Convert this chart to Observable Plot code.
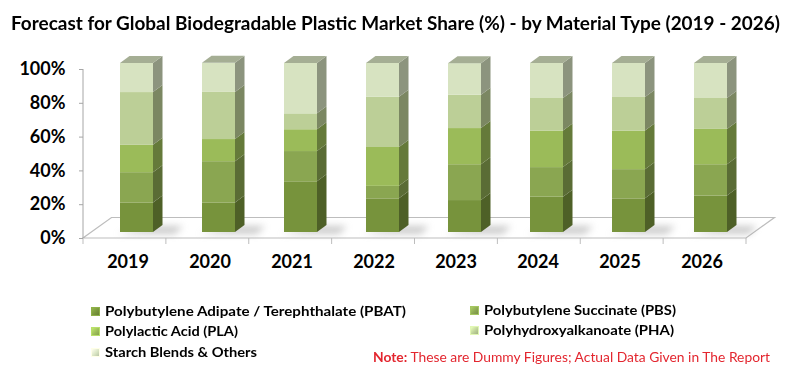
<!DOCTYPE html>
<html><head><meta charset="utf-8">
<script src="https://cdn.jsdelivr.net/npm/d3@7"></script>
<script src="https://cdn.jsdelivr.net/npm/@observablehq/plot@0.6"></script>
<style>
body{margin:0;background:#fff;}
#wrap{position:relative;width:795px;height:378px;overflow:hidden;font-family:Lato,"Open Sans",sans-serif;color:#000;}
#wrap svg{position:absolute;left:0;top:0;}
.title{position:absolute;left:11px;top:13px;font-weight:bold;font-size:18px;line-height:20px;white-space:nowrap;transform-origin:0 50%;}
.leg{position:absolute;height:20px;line-height:20px;font-weight:bold;font-size:14px;white-space:nowrap;display:flex;align-items:center;}
.leg .sw{width:7px;height:7px;margin-right:5px;flex:none;}
.leg .tx{display:inline-block;transform-origin:0 50%;}
.note{position:absolute;left:373px;top:347px;height:20px;line-height:20px;font-size:14px;color:#e3262f;white-space:nowrap;transform-origin:0 50%;}
</style></head>
<body>
<div id="wrap"></div>
<script>
const years = ["2019","2020","2021","2022","2023","2024","2025","2026"];
const types = ["Polybutylene Adipate / Terephthalate (PBAT)","Polybutylene Succinate (PBS)","Polylactic Acid (PLA)","Polyhydroxyalkanoate (PHA)","Starch Blends & Others"];
const pbat   = [17.5, 17.5, 30.0, 19.9, 18.9, 20.9, 19.9, 21.6];
const pbs    = [17.9, 24.4, 17.9,  7.4, 21.2, 17.5, 17.3, 18.5];
const pla    = [16.2, 13.1, 12.9, 23.0, 21.4, 21.6, 22.8, 20.9];
const pha    = [31.2, 27.9,  9.4, 29.8, 19.7, 19.3, 19.9, 18.3];
const starch = [17.2, 17.2, 29.8, 19.9, 18.7, 20.7, 20.1, 20.7];
const colors = ["#77933c","#8aa651","#9bbb59","#bccf97","#d7e3c1"];
const yTicks = [0,20,40,60,80,100];
const titleText = "Forecast for Global Biodegradable Plastic Market Share (%) - by Material Type  (2019 - 2026)";

const series = [pbat, pbs, pla, pha, starch];
const rows = types.flatMap((t,i)=>years.map((y,j)=>({year:y,type:t,value:series[i][j]})));

const W = 795, H = 378, ML = 83, MR = 49, MT = 69, MB = 140;
const DX = 9, DY = -6;       // bar offset (3D depth)
const SX = 9.5, SY = 7;      // bar side depth
const FX = 28.5, FY = 20.5;  // floor depth

const chart = Plot.plot({
  width: W, height: H,
  marginLeft: ML, marginRight: MR, marginTop: MT, marginBottom: MB,
  style: {fontFamily: "Lato, 'Open Sans', sans-serif", fontSize: "18px", fontWeight: "bold", color: "#000", background: "transparent"},
  x: {domain: years, paddingInner: 0.6, paddingOuter: 0.3, label: null},
  y: {domain: [0,100], label: null},
  color: {domain: types, range: colors},
  marks: [
    Plot.axisY({ticks: yTicks, tickFormat: d => d + "%", tickSize: 4, tickPadding: 14, stroke: "#a6a6a6", label: null}),
    Plot.axisX({tickSize: 0, tickPadding: 17, label: null}),
    Plot.barY(rows, {x: "year", y: "value", fill: "type", dx: DX, dy: DY})
  ]
});
const wrap = document.getElementById("wrap");
wrap.appendChild(chart);

// 3D decoration derived from rendered geometry
const svg = d3.select(chart);
const ns = "http://www.w3.org/2000/svg";
const y0 = H - MB, xr = W - MR;
const floor = svg.insert("g", ":first-child");
const defs = svg.insert("defs", ":first-child");
defs.append("filter").attr("id","blur").attr("x","-50%").attr("y","-100%").attr("width","200%").attr("height","300%")
  .append("feGaussianBlur").attr("stdDeviation", 3.5);
floor.append("polygon")
  .attr("points", `${ML},${y0} ${xr},${y0} ${xr+FX},${y0-FY} ${ML+FX},${y0-FY}`)
  .attr("fill", "#fff").attr("stroke", "#bdbdbd").attr("stroke-width", 1.2);
floor.append("line").attr("x1", ML).attr("x2", ML).attr("y1", MT).attr("y2", y0)
  .attr("stroke", "#a6a6a6").attr("stroke-width", 1);
const step = (xr - ML) / years.length;
for (let i = 0; i <= years.length; i++) {
  floor.append("line").attr("x1", ML + i*step).attr("x2", ML + i*step).attr("y1", y0).attr("y2", y0 + 6)
    .attr("stroke", "#bdbdbd").attr("stroke-width", 1);
}
const barG = svg.selectAll("rect").filter(function(){ return this.getAttribute("fill") && this.getAttribute("fill") !== "none"; });
const groups = new Map();
barG.each(function(){
  const r = this;
  const x = +r.getAttribute("x"), y = +r.getAttribute("y"), w = +r.getAttribute("width"), h = +r.getAttribute("height");
  const fill = r.getAttribute("fill");
  const p = r.parentNode;
  const side = document.createElementNS(ns, "polygon");
  side.setAttribute("points", `${x+w},${y} ${x+w+SX},${y-SY} ${x+w+SX},${y+h-SY} ${x+w},${y+h}`);
  side.setAttribute("fill", d3.color(fill).darker(1.2).formatHex());
  p.appendChild(side);
  const key = Math.round(x);
  const g = groups.get(key) || {x, w, top: Infinity, bottom: -Infinity, topFill: null, parent: p};
  if (y < g.top) { g.top = y; g.topFill = fill; }
  if (y + h > g.bottom) g.bottom = y + h;
  groups.set(key, g);
});
for (const g of groups.values()) {
  const top = document.createElementNS(ns, "polygon");
  top.setAttribute("points", `${g.x},${g.top} ${g.x+SX},${g.top-SY} ${g.x+g.w+SX},${g.top-SY} ${g.x+g.w},${g.top}`);
  top.setAttribute("fill", d3.color(g.topFill).darker(0.75).formatHex());
  g.parent.appendChild(top);
  const sh = document.createElementNS(ns, "polygon");
  const b = g.bottom;
  sh.setAttribute("points", `${g.x-3},${b+2} ${g.x+g.w+22},${b+2} ${g.x+g.w+30},${b-6} ${g.x+g.w},${b-6}`);
  sh.setAttribute("fill", "#a0a0a0");
  sh.setAttribute("opacity", "0.55");
  sh.setAttribute("filter", "url(#blur)");
  g.parent.insertBefore(sh, g.parent.firstChild);
}

// title
const title = document.createElement("div");
title.className = "title"; title.textContent = titleText;
wrap.appendChild(title);

// legend
const legX = [91, 470], legY = [[301, 321, 342], [300, 320]];
const legW = [301, 192, 133, 190, 152];
const fitEls = [[title, 769]];
types.forEach((t, i) => {
  const col = i % 2, row = Math.floor(i / 2);
  const d = document.createElement("div");
  d.className = "leg";
  d.style.left = legX[col] + "px"; d.style.top = legY[col][row] + "px";
  const sw = document.createElement("span"); sw.className = "sw";
  sw.style.background = `linear-gradient(135deg, ${d3.color(colors[i]).brighter(0.6)}, ${colors[i]} 60%, ${d3.color(colors[i]).darker(0.4)})`;
  sw.style.border = `1px solid ${d3.color(colors[i]).brighter(0.5)}`;
  const tx = document.createElement("span"); tx.className = "tx"; tx.textContent = t;
  d.appendChild(sw); d.appendChild(tx);
  wrap.appendChild(d);
  fitEls.push([tx, legW[i]]);
});
const note = document.createElement("div");
note.className = "note";
note.innerHTML = "<b>Note:</b> These are Dummy Figures; Actual Data Given in The Report";
wrap.appendChild(note);
fitEls.push([note, 397]);
for (const [el, w] of fitEls) {
  const r = el.getBoundingClientRect().width;
  if (r > 0) el.style.transform = `scaleX(${w / r})`;
}
</script>
</body></html>
